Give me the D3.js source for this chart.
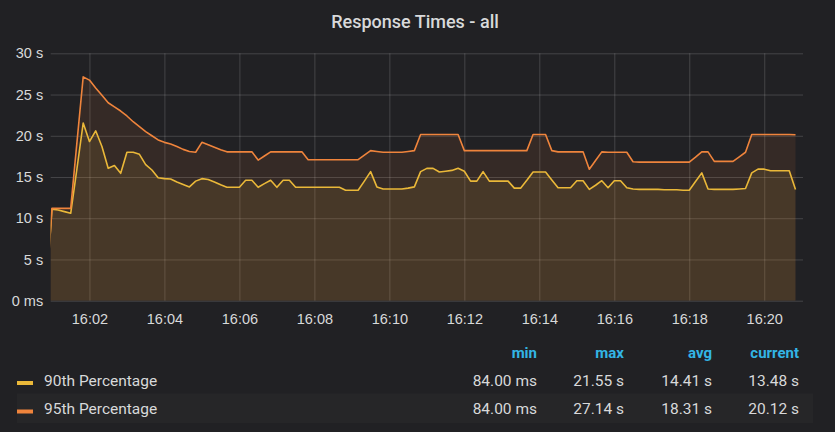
<!DOCTYPE html>
<html>
<head>
<meta charset="utf-8">
<script src="https://cdn.jsdelivr.net/npm/d3@7"></script>
<style>
  html, body { margin: 0; padding: 0; background: #212124; }
  svg { display: block; font-family: Roboto, "Noto Sans", sans-serif; }
</style>
</head>
<body>
<svg id="chart" width="835" height="432"></svg>
<script>
// Data (seconds), one point every 10 s starting 16:00:50
const title = 'Response Times - all';
const seriesNames = ['90th Percentage', '95th Percentage'];
const seriesColors = ['#EAB839', '#EF843C'];
const startTime = new Date(2020, 0, 1, 16, 0, 50);
const stepSeconds = 10;

const p90 = [
  0.084, 11.1, 11.0, 10.8, 10.6, 16.0, 21.55, 19.3, 20.6, 18.7,
  16.05, 16.4, 15.45, 18.0, 18.0, 17.75, 16.5, 15.85, 14.9, 14.8,
  14.75, 14.4, 14.1, 13.8, 14.5, 14.8, 14.7, 14.4, 14.05, 13.75,
  13.75, 13.75, 14.6, 14.6, 13.75, 14.2, 14.6, 13.75, 14.6, 14.6,
  13.75, 13.75, 13.75, 13.75, 13.75, 13.75, 13.75, 13.75, 13.4, 13.4,
  13.4, 14.5, 15.65, 13.8, 13.55, 13.55, 13.55, 13.55, 13.65, 13.8,
  15.65, 16.05, 16.05, 15.6, 15.7, 15.8, 16.05, 15.7, 14.5, 14.5,
  15.65, 14.5, 14.5, 14.5, 14.5, 13.65, 13.65, 14.6, 15.6, 15.6,
  15.6, 14.65, 13.7, 13.7, 13.7, 14.55, 14.55, 13.5, 14.0, 14.55,
  13.7, 14.55, 14.55, 13.7, 13.55, 13.5, 13.5, 13.5, 13.5, 13.45,
  13.45, 13.45, 13.4, 13.4, 14.45, 15.5, 13.55, 13.5, 13.5, 13.5,
  13.5, 13.55, 13.6, 15.5, 15.95, 15.95, 15.75, 15.75, 15.75, 15.75,
  13.48
];

const p95 = [
  0.084, 11.2, 11.2, 11.2, 11.2, 19.2, 27.14, 26.75, 25.8, 24.9,
  24.0, 23.5, 23.0, 22.4, 21.7, 21.1, 20.5, 20.0, 19.5, 19.2,
  19.0, 18.7, 18.35, 18.1, 18.0, 19.2, 18.9, 18.6, 18.3, 18.05,
  18.05, 18.05, 18.05, 18.05, 17.05, 17.55, 18.05, 18.05, 18.05, 18.05,
  18.05, 18.05, 17.1, 17.1, 17.1, 17.1, 17.1, 17.1, 17.1, 17.1,
  17.1, 17.65, 18.2, 18.1, 18.0, 18.0, 18.0, 18.0, 18.1, 18.2,
  20.15, 20.15, 20.15, 20.15, 20.15, 20.15, 20.15, 18.2, 18.2, 18.2,
  18.2, 18.2, 18.2, 18.2, 18.2, 18.2, 18.2, 18.2, 20.15, 20.15,
  20.15, 18.2, 18.05, 18.05, 18.05, 18.05, 18.05, 15.95, 17.0, 18.05,
  18.0, 18.0, 18.0, 18.0, 16.85, 16.8, 16.8, 16.8, 16.8, 16.8,
  16.8, 16.8, 16.8, 16.8, 17.4, 18.05, 18.05, 16.9, 16.9, 16.9,
  16.9, 17.45, 18.0, 20.15, 20.15, 20.15, 20.15, 20.15, 20.15, 20.15,
  20.12
];

const yTicks = [0, 5, 10, 15, 20, 25, 30];
const legendHeaders = ['min', 'max', 'avg', 'current'];
const p90Stats = ['84.00 ms', '21.55 s', '14.41 s', '13.48 s'];
const p95Stats = ['84.00 ms', '27.14 s', '18.31 s', '20.12 s'];

// Layout
const plot = { left: 50.7, right: 803, top: 53.3, bottom: 300.7 };
const legendCols = [537, 624, 712, 799];
const gridColor = 'rgba(255,255,255,0.16)';
const textColor = '#d8d9da';

const svg = d3.select('#chart');

svg.append('rect')
  .attr('width', 835).attr('height', 432)
  .attr('fill', '#212124');

// Title
svg.append('text')
  .attr('x', 415)
  .attr('y', 21)
  .attr('text-anchor', 'middle')
  .attr('dominant-baseline', 'central')
  .style('font-size', '18px')
  .style('font-weight', 500)
  .style('fill', textColor)
  .text(title);

// Scales
const times = p90.map((d, i) => new Date(startTime.getTime() + i * stepSeconds * 1000));

const x = d3.scaleTime()
  .domain([new Date(2020, 0, 1, 16, 0, 58), new Date(2020, 0, 1, 16, 21, 2)])
  .range([plot.left, plot.right]);

const y = d3.scaleLinear()
  .domain([0, 30])
  .range([plot.bottom, plot.top]);

const fmtY = (v) => (v === 0 ? '0 ms' : `${v} s`);

// Grid + axes
const yAxis = svg.append('g')
  .attr('class', 'axis axis-y')
  .attr('transform', `translate(${plot.left},0)`)
  .call(d3.axisLeft(y).tickValues(yTicks).tickFormat(fmtY)
    .tickSize(-(plot.right - plot.left)).tickPadding(8));

const xAxis = svg.append('g')
  .attr('class', 'axis axis-x')
  .attr('transform', `translate(0,${plot.bottom})`)
  .call(d3.axisBottom(x).ticks(d3.timeMinute.every(2)).tickFormat(d3.timeFormat('%H:%M'))
    .tickSize(-(plot.bottom - plot.top)).tickPadding(13));

[yAxis, xAxis].forEach((g) => {
  g.select('.domain').remove();
  g.selectAll('line').attr('stroke', gridColor).attr('stroke-width', 1);
  g.selectAll('text')
    .style('font-size', '14.5px')
    .style('fill', textColor);
});
yAxis.selectAll('text').attr('x', -7.5);

// Series
svg.append('clipPath').attr('id', 'plot-clip')
  .append('rect')
  .attr('x', plot.left).attr('y', plot.top - 5)
  .attr('width', plot.right - plot.left)
  .attr('height', plot.bottom - plot.top + 5);

const area = d3.area()
  .x((d, i) => x(times[i]))
  .y0(y(0))
  .y1((d) => y(d));

const line = d3.line()
  .x((d, i) => x(times[i]))
  .y((d) => y(d));

const series = svg.append('g').attr('clip-path', 'url(#plot-clip)');

[p90, p95].forEach((values, s) => {
  series.append('path')
    .attr('d', area(values))
    .attr('fill', seriesColors[s])
    .attr('fill-opacity', 0.1);
});

[p90, p95].forEach((values, s) => {
  series.append('path')
    .attr('d', line(values))
    .attr('fill', 'none')
    .attr('stroke', seriesColors[s])
    .attr('stroke-width', 1.6)
    .attr('stroke-linejoin', 'round');
});

// Legend table
const legend = svg.append('g').attr('class', 'legend');

legend.append('rect')
  .attr('x', 17).attr('y', 393.5)
  .attr('width', 796).attr('height', 29.5)
  .attr('fill', '#262628');

legend.selectAll('.legend-header')
  .data(legendHeaders)
  .enter()
  .append('text')
  .attr('class', 'legend-header')
  .attr('x', (d, i) => legendCols[i])
  .attr('y', 353)
  .attr('text-anchor', 'end')
  .attr('dominant-baseline', 'central')
  .style('font-size', '15px')
  .style('font-weight', 700)
  .style('fill', '#33b5e5')
  .text((d) => d);

const rows = [p90Stats, p95Stats];
const rowY = [380.5, 409];

rows.forEach((stats, r) => {
  legend.append('rect')
    .attr('x', 17).attr('y', rowY[r] + 0.5)
    .attr('width', 16).attr('height', 4)
    .attr('fill', seriesColors[r]);

  legend.append('text')
    .attr('x', 44)
    .attr('y', rowY[r])
    .attr('dominant-baseline', 'central')
    .style('font-size', '15.5px')
    .style('fill', textColor)
    .text(seriesNames[r]);

  legend.selectAll(`.stat-${r}`)
    .data(stats)
    .enter()
    .append('text')
    .attr('class', `stat-${r}`)
    .attr('x', (d, i) => legendCols[i])
    .attr('y', rowY[r])
    .attr('text-anchor', 'end')
    .attr('dominant-baseline', 'central')
    .style('font-size', '15.5px')
    .style('fill', textColor)
    .text((d) => d);
});
</script>
</body>
</html>
